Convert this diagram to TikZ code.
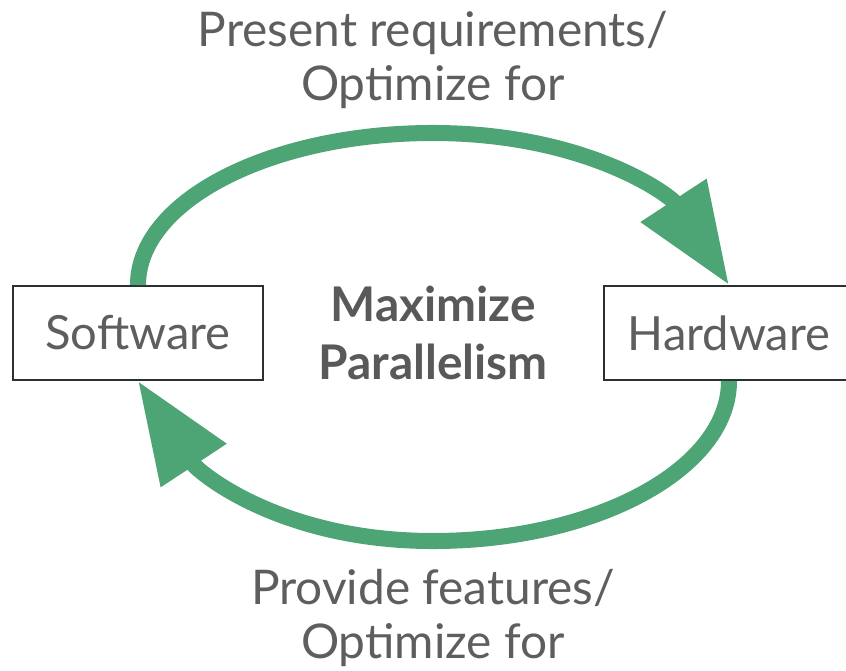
\documentclass[tikz,border=0pt]{standalone}
\usepackage{fontspec}
\setmainfont{Lato}
\usetikzlibrary{arrows.meta}

\definecolor{loopgreen}{HTML}{4DA474}
\definecolor{labelgray}{HTML}{5E5E5E}
\definecolor{edgegray}{HTML}{2B3031}

\tikzset{
  unit/.style={draw=edgegray, line width=1.4pt, minimum width=6.25cm,
    minimum height=2.35cm, text=labelgray, font=\fontsize{33.5}{38}\selectfont},
  flow/.style={loopgreen, line width=11.4pt,
    -{Triangle[length=72pt,width=53pt]}},
  caption/.style={text=labelgray, align=center,
    font=\fontsize{34}{39}\selectfont},
}

\begin{document}
\begin{tikzpicture}[x=0.025cm,y=-0.025cm]
\useasboundingbox (0,0) rectangle (846,670);
% the two sides of the loop
\node[unit] (sw) at (138,333) {Software};
\node[unit] (hw) at (729,333) {Hardware};
% goal in the middle
\node[caption, text=labelgray!95!black, font=\bfseries\fontsize{34}{41}\selectfont] (goal) at (433,333) {Maximize\\Parallelism};
% top and bottom arcs
\coordinate (top) at (433,133);
\coordinate (bot) at (433,541);
\draw[flow] (sw.north) .. controls (138,201) and (270,133) .. (top)
  .. controls (585,133) and (670,195) .. (hw.north);
\draw[flow] (hw.south) .. controls (729,469) and (596,541) .. (bot)
  .. controls (280,541) and (198,472) .. (sw.south);
\node[caption] (req) at (433,60) {Present requirements/\\Optimize for};
\node[caption] (feat) at (433,618) {Provide features/\\Optimize for};
\end{tikzpicture}
\end{document}
